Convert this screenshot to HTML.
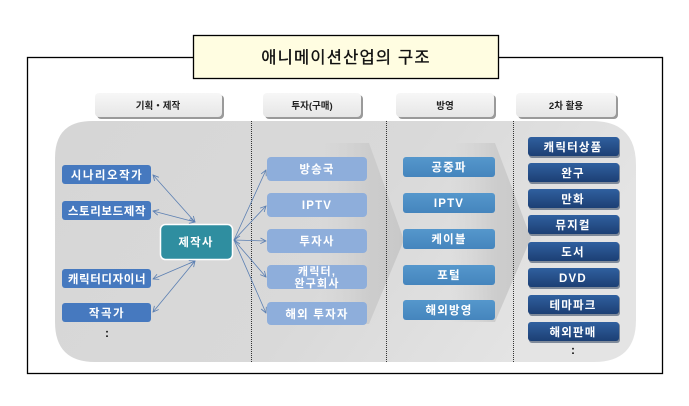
<!DOCTYPE html>
<html><head><meta charset="utf-8">
<style>
html,body{margin:0;padding:0;background:#fff;}
svg{display:block;}
text{font-family:"Liberation Sans","Noto Sans CJK KR",sans-serif;}
</style></head>
<body>
<svg width="689" height="406" viewBox="0 0 689 406" xmlns="http://www.w3.org/2000/svg">
<defs>
  <linearGradient id="bg" x1="0" y1="0" x2="1" y2="0.3">
    <stop offset="0" stop-color="#d6d6d6"/>
    <stop offset="0.6" stop-color="#d9d9d9"/>
    <stop offset="1" stop-color="#e4e4e4"/>
  </linearGradient>
  <linearGradient id="btn" x1="0" y1="0" x2="0" y2="1">
    <stop offset="0" stop-color="#f7f7f7"/>
    <stop offset="1" stop-color="#e6e6e6"/>
  </linearGradient>
  <linearGradient id="chev" x1="0" y1="0" x2="1" y2="0">
    <stop offset="0" stop-color="#d2d2d2" stop-opacity="0"/>
    <stop offset="0.55" stop-color="#cdcdcd" stop-opacity="1"/>
    <stop offset="1" stop-color="#c8c8c8" stop-opacity="1"/>
  </linearGradient>
  <linearGradient id="navy" x1="0" y1="0" x2="0" y2="1">
    <stop offset="0" stop-color="#30609f"/>
    <stop offset="1" stop-color="#1c3f74"/>
  </linearGradient>
  <linearGradient id="bc" x1="0" y1="0" x2="0" y2="1">
    <stop offset="0" stop-color="#5597cc"/>
    <stop offset="1" stop-color="#4585bd"/>
  </linearGradient>
  <marker id="ah" viewBox="0 0 10 10" refX="9" refY="5" markerWidth="7" markerHeight="7" orient="auto-start-reverse" markerUnits="userSpaceOnUse">
    <path d="M1,1 L9,5 L1,9" fill="none" stroke="#5b7fb2" stroke-width="1.2"/>
  </marker>
</defs>

<!-- outer frame -->
<rect x="27.5" y="57.5" width="635" height="316" fill="#fff" stroke="#000" stroke-width="1.3"/>

<!-- title -->
<rect x="193.5" y="35.5" width="305" height="43" fill="#fffde1" stroke="#000" stroke-width="1.3"/>
<text x="346" y="63" font-size="16.5" text-anchor="middle" fill="#111" stroke="#111" stroke-width="0.35" letter-spacing="1.2">애니메이션산업의 구조</text>

<!-- header buttons -->
<g>
  <rect x="97" y="95" width="127" height="24" rx="4" fill="#9a9a9a"/>
  <rect x="95" y="93" width="127" height="24" rx="4" fill="url(#btn)"/>
  <text x="158" y="109" font-size="9.5" font-weight="bold" text-anchor="middle" fill="#222">기획・제작</text>

  <rect x="265" y="95" width="98" height="24" rx="4" fill="#9a9a9a"/>
  <rect x="263" y="93" width="98" height="24" rx="4" fill="url(#btn)"/>
  <text x="312" y="109" font-size="9.5" font-weight="bold" text-anchor="middle" fill="#222">투자(구매)</text>

  <rect x="398" y="95" width="98" height="24" rx="4" fill="#9a9a9a"/>
  <rect x="396" y="93" width="98" height="24" rx="4" fill="url(#btn)"/>
  <text x="445" y="109" font-size="9.5" font-weight="bold" text-anchor="middle" fill="#222">방영</text>

  <rect x="518" y="95" width="100" height="24" rx="4" fill="#9a9a9a"/>
  <rect x="516" y="93" width="100" height="24" rx="4" fill="url(#btn)"/>
  <text x="566" y="109" font-size="9.5" font-weight="bold" text-anchor="middle" fill="#222">2차 활용</text>
</g>

<!-- gray background region -->
<path d="M92,121 L592,121 Q636,121 636,165 L636,320 Q636,362 594,362 L95,362 Q55,362 55,322 L55,158 Q55,121 92,121 Z" fill="url(#bg)"/>

<!-- chevrons -->
<polygon points="320,143 369,143 404,240 369,324 320,324" fill="url(#chev)"/>
<polygon points="450,143 495,143 531,238 495,322 450,322" fill="url(#chev)"/>

<!-- dotted separators -->
<g stroke="#333" stroke-width="1" stroke-dasharray="1,1">
  <line x1="251.5" y1="121" x2="251.5" y2="363"/>
  <line x1="386.5" y1="121" x2="386.5" y2="363"/>
  <line x1="513.5" y1="121" x2="513.5" y2="363"/>
</g>

<!-- left column boxes -->
<g font-size="11.5" font-weight="bold" fill="#fff" text-anchor="middle" letter-spacing="1.5">
  <rect x="62" y="165" width="89" height="19" rx="3" fill="#4679bf"/>
  <text x="107" y="179">시나리오작가</text>
  <rect x="62" y="201" width="89" height="19" rx="3" fill="#4679bf"/>
  <text x="107" y="215" letter-spacing="0.6">스토리보드제작</text>
  <rect x="62" y="269" width="89" height="19" rx="3" fill="#4679bf"/>
  <text x="107" y="283" letter-spacing="0.6">캐릭터디자이너</text>
  <rect x="62" y="303" width="89" height="19" rx="3" fill="#4679bf"/>
  <text x="107" y="317">작곡가</text>
</g>
<text x="107" y="337" font-size="12" font-weight="bold" text-anchor="middle" fill="#111">:</text>

<!-- 제작사 -->
<rect x="160.5" y="224.5" width="72" height="35" rx="5" fill="#2f8ea0" stroke="#ffffff" stroke-width="1.5"/>
<text x="196" y="246" font-size="11.5" font-weight="bold" fill="#fff" text-anchor="middle" letter-spacing="1.2">제작사</text>

<!-- connectors -->
<g stroke="#5b7fb2" stroke-width="0.8" fill="none" marker-start="url(#ah)" marker-end="url(#ah)">
  <line x1="153" y1="175" x2="195" y2="222"/>
  <line x1="153" y1="211" x2="195" y2="222"/>
  <line x1="153" y1="279" x2="195" y2="261"/>
  <line x1="153" y1="312" x2="195" y2="261"/>
</g>
<g stroke="#5b7fb2" stroke-width="0.8" fill="none" marker-end="url(#ah)">
  <line x1="234" y1="240" x2="266" y2="170"/>
  <line x1="234" y1="240" x2="266" y2="206"/>
  <line x1="234" y1="240" x2="266" y2="241"/>
  <line x1="234" y1="240" x2="266" y2="277"/>
  <line x1="234" y1="240" x2="266" y2="313"/>
</g>
<g stroke="#5b7fb2" stroke-width="0.8" fill="none">
  <path d="M240,236 L234,240 L240,244"/>
</g>

<!-- middle column -->
<g font-size="11.5" font-weight="bold" fill="#fff" text-anchor="middle" letter-spacing="1.2">
  <rect x="267" y="157" width="100" height="24" rx="4" fill="#8eaedb"/>
  <text x="317" y="173">방송국</text>
  <rect x="267" y="193" width="100" height="24" rx="4" fill="#8eaedb"/>
  <text x="317" y="209">IPTV</text>
  <rect x="267" y="229" width="100" height="24" rx="4" fill="#8eaedb"/>
  <text x="317" y="245">투자사</text>
  <rect x="267" y="265" width="100" height="24" rx="4" fill="#8eaedb"/>
  <text x="317" y="275" font-size="11">캐릭터,</text>
  <text x="317" y="287" font-size="11">완구회사</text>
  <rect x="267" y="302" width="100" height="23" rx="4" fill="#8eaedb"/>
  <text x="317" y="318">해외 투자자</text>
</g>

<!-- broadcast column -->
<g font-size="11.5" font-weight="bold" fill="#fff" text-anchor="middle" letter-spacing="1.2">
  <rect x="403" y="157" width="92" height="20" rx="3" fill="url(#bc)"/>
  <text x="449" y="171">공중파</text>
  <rect x="403" y="193" width="92" height="20" rx="3" fill="url(#bc)"/>
  <text x="449" y="207">IPTV</text>
  <rect x="403" y="229" width="92" height="20" rx="3" fill="url(#bc)"/>
  <text x="449" y="243">케이블</text>
  <rect x="403" y="265" width="92" height="20" rx="3" fill="url(#bc)"/>
  <text x="449" y="279">포털</text>
  <rect x="403" y="300" width="92" height="20" rx="3" fill="url(#bc)"/>
  <text x="449" y="314">해외방영</text>
</g>

<!-- 2차 활용 column -->
<g font-size="11.5" font-weight="bold" fill="#fff" text-anchor="middle" letter-spacing="1.2">
  <rect x="529" y="138" width="91" height="20" rx="3" fill="#1a2f50" opacity="0.5"/>
  <rect x="528" y="137" width="91" height="19" rx="3" fill="url(#navy)"/>
  <text x="573" y="151">캐릭터상품</text>
  <rect x="529" y="164" width="91" height="20" rx="3" fill="#1a2f50" opacity="0.5"/>
  <rect x="528" y="163" width="91" height="19" rx="3" fill="url(#navy)"/>
  <text x="573" y="177">완구</text>
  <rect x="529" y="190" width="91" height="20" rx="3" fill="#1a2f50" opacity="0.5"/>
  <rect x="528" y="189" width="91" height="19" rx="3" fill="url(#navy)"/>
  <text x="573" y="203">만화</text>
  <rect x="529" y="216" width="91" height="20" rx="3" fill="#1a2f50" opacity="0.5"/>
  <rect x="528" y="215" width="91" height="19" rx="3" fill="url(#navy)"/>
  <text x="573" y="229">뮤지컬</text>
  <rect x="529" y="243" width="91" height="20" rx="3" fill="#1a2f50" opacity="0.5"/>
  <rect x="528" y="242" width="91" height="19" rx="3" fill="url(#navy)"/>
  <text x="573" y="256">도서</text>
  <rect x="529" y="269" width="91" height="20" rx="3" fill="#1a2f50" opacity="0.5"/>
  <rect x="528" y="268" width="91" height="19" rx="3" fill="url(#navy)"/>
  <text x="573" y="282">DVD</text>
  <rect x="529" y="296" width="91" height="20" rx="3" fill="#1a2f50" opacity="0.5"/>
  <rect x="528" y="295" width="91" height="19" rx="3" fill="url(#navy)"/>
  <text x="573" y="309">테마파크</text>
  <rect x="529" y="323" width="91" height="20" rx="3" fill="#1a2f50" opacity="0.5"/>
  <rect x="528" y="322" width="91" height="19" rx="3" fill="url(#navy)"/>
  <text x="573" y="336">해외판매</text>
</g>
<text x="573" y="354" font-size="12" font-weight="bold" text-anchor="middle" fill="#111">:</text>
</svg>
</body></html>
